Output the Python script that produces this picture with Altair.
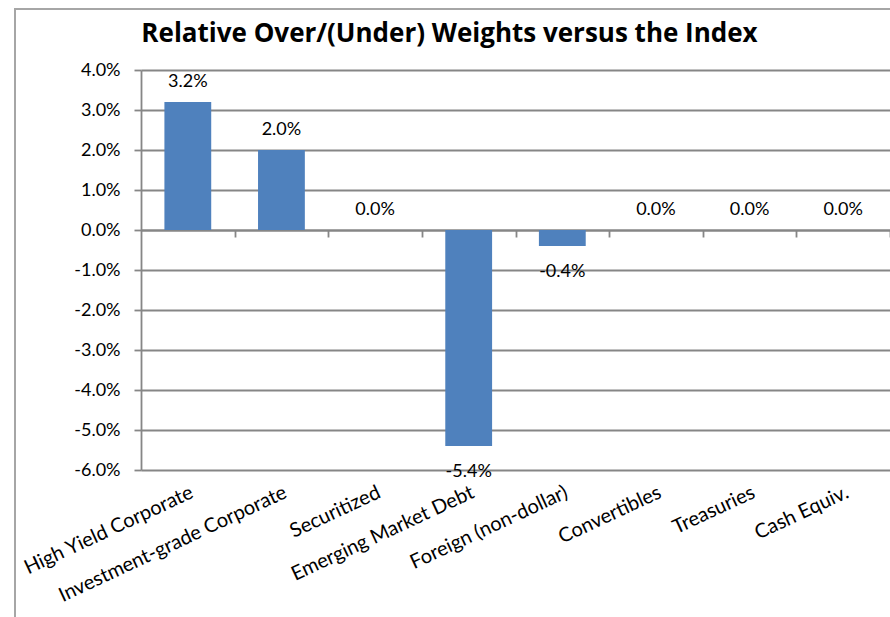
import altair as alt
import pandas as pd

categories = [
    "High Yield Corporate",
    "Investment-grade Corporate",
    "Securitized",
    "Emerging Market Debt",
    "Foreign (non-dollar)",
    "Convertibles",
    "Treasuries",
    "Cash Equiv.",
]
values = [3.2, 2.0, 0.0, -5.4, -0.4, 0.0, 0.0, 0.0]
y_ticks = [4, 3, 2, 1, 0, -1, -2, -3, -4, -5, -6]
title_text = "Relative Over/(Under) Weights versus the Index"

df = pd.DataFrame({"category": categories, "value": values})

FONT = "Lato"
GRID = "#868686"
GW = 1.8
BLUE = "#4F81BD"
W = 749
H = 400
STEP = W / len(categories)

x_scale = alt.Scale(domain=categories, paddingInner=0.5, paddingOuter=0.25)
y_scale = alt.Scale(domain=[-6, 4], nice=False, zero=False)

label_expr = "(datum.value < 0 ? '-' : '') + format(abs(datum.value), '.1f') + '%'"

y_axis = alt.Axis(
    title=None,
    values=y_ticks,
    labelExpr=label_expr,
    grid=True,
    gridColor=GRID,
    gridWidth=GW,
    domain=True,
    domainColor=GRID,
    domainWidth=GW,
    tickColor=GRID,
    tickSize=7,
    tickWidth=GW,
    labelPadding=14,
    labelFont=FONT,
    labelFontSize=18,
    labelColor="black",
)

base = alt.Chart(df).transform_calculate(
    label="(datum.value < 0 ? '-' : '') + format(abs(datum.value), '.1f') + '%'"
)

bars = base.mark_bar(color=BLUE).encode(
    x=alt.X(
        "category:N",
        sort=categories,
        scale=x_scale,
        axis=alt.Axis(
            orient="bottom",
            title=None,
            labelAngle=-25,
            labelAlign="right",
            labelBaseline="top",
            labelPadding=12,
            labelLimit=400,
            domain=False,
            ticks=False,
            grid=False,
            labelFont=FONT,
            labelFontSize=20,
            labelColor="black",
        ),
    ),
    y=alt.Y("value:Q", scale=y_scale, axis=y_axis),
)

pos_text = base.transform_filter("datum.value >= 0").mark_text(
    font=FONT, fontSize=18, color="black", baseline="alphabetic", dy=-15
).encode(
    x=alt.X(
        "category:N",
        sort=categories,
        scale=x_scale,
        axis=alt.Axis(
            orient="bottom",
            offset=-240,
            title=None,
            labels=False,
            domain=True,
            domainColor=GRID,
            domainWidth=GW,
            ticks=True,
            tickOffset=STEP / 2,
            tickSize=7,
            tickColor=GRID,
            tickWidth=GW,
            grid=False,
        ),
    ),
    y=alt.Y("value:Q", scale=y_scale, axis=y_axis),
    text="label:N",
)

neg_text = base.transform_filter("datum.value < 0").mark_text(
    font=FONT, fontSize=18, color="black", baseline="alphabetic", dy=31
).encode(
    x=alt.X("category:N", sort=categories, scale=x_scale, axis=None),
    y=alt.Y("value:Q", scale=y_scale, axis=y_axis),
    text="label:N",
)

one = pd.DataFrame({"k": [0]})
frame_left = alt.Chart(one).mark_rule(color="#a6a6a6", strokeWidth=2).encode(
    x=alt.value(-126), y=alt.value(-62), y2=alt.value(560)
)
frame_top = alt.Chart(one).mark_rule(color="#a6a6a6", strokeWidth=2).encode(
    x=alt.value(-127), x2=alt.value(760), y=alt.value(-61)
)
title_mark = alt.Chart(one).mark_text(
    font="Open Sans", fontSize=26, fontWeight="bold", color="black",
    baseline="alphabetic", align="center",
).encode(
    x=alt.value(308.5), y=alt.value(-28), text=alt.value(title_text)
)

chart = (
    alt.layer(frame_left, frame_top, title_mark, bars, pos_text, neg_text)
    .resolve_axis(x="independent")
    .properties(
        width=W,
        height=H,
        autosize=alt.AutoSizeParams(type="none"),
        padding={"left": 141, "top": 70, "right": 0, "bottom": 147},
        background="white",
    )
    .configure_view(stroke=None)
)

chart.save("out.html", embed_options={"renderer": "svg", "actions": False})
